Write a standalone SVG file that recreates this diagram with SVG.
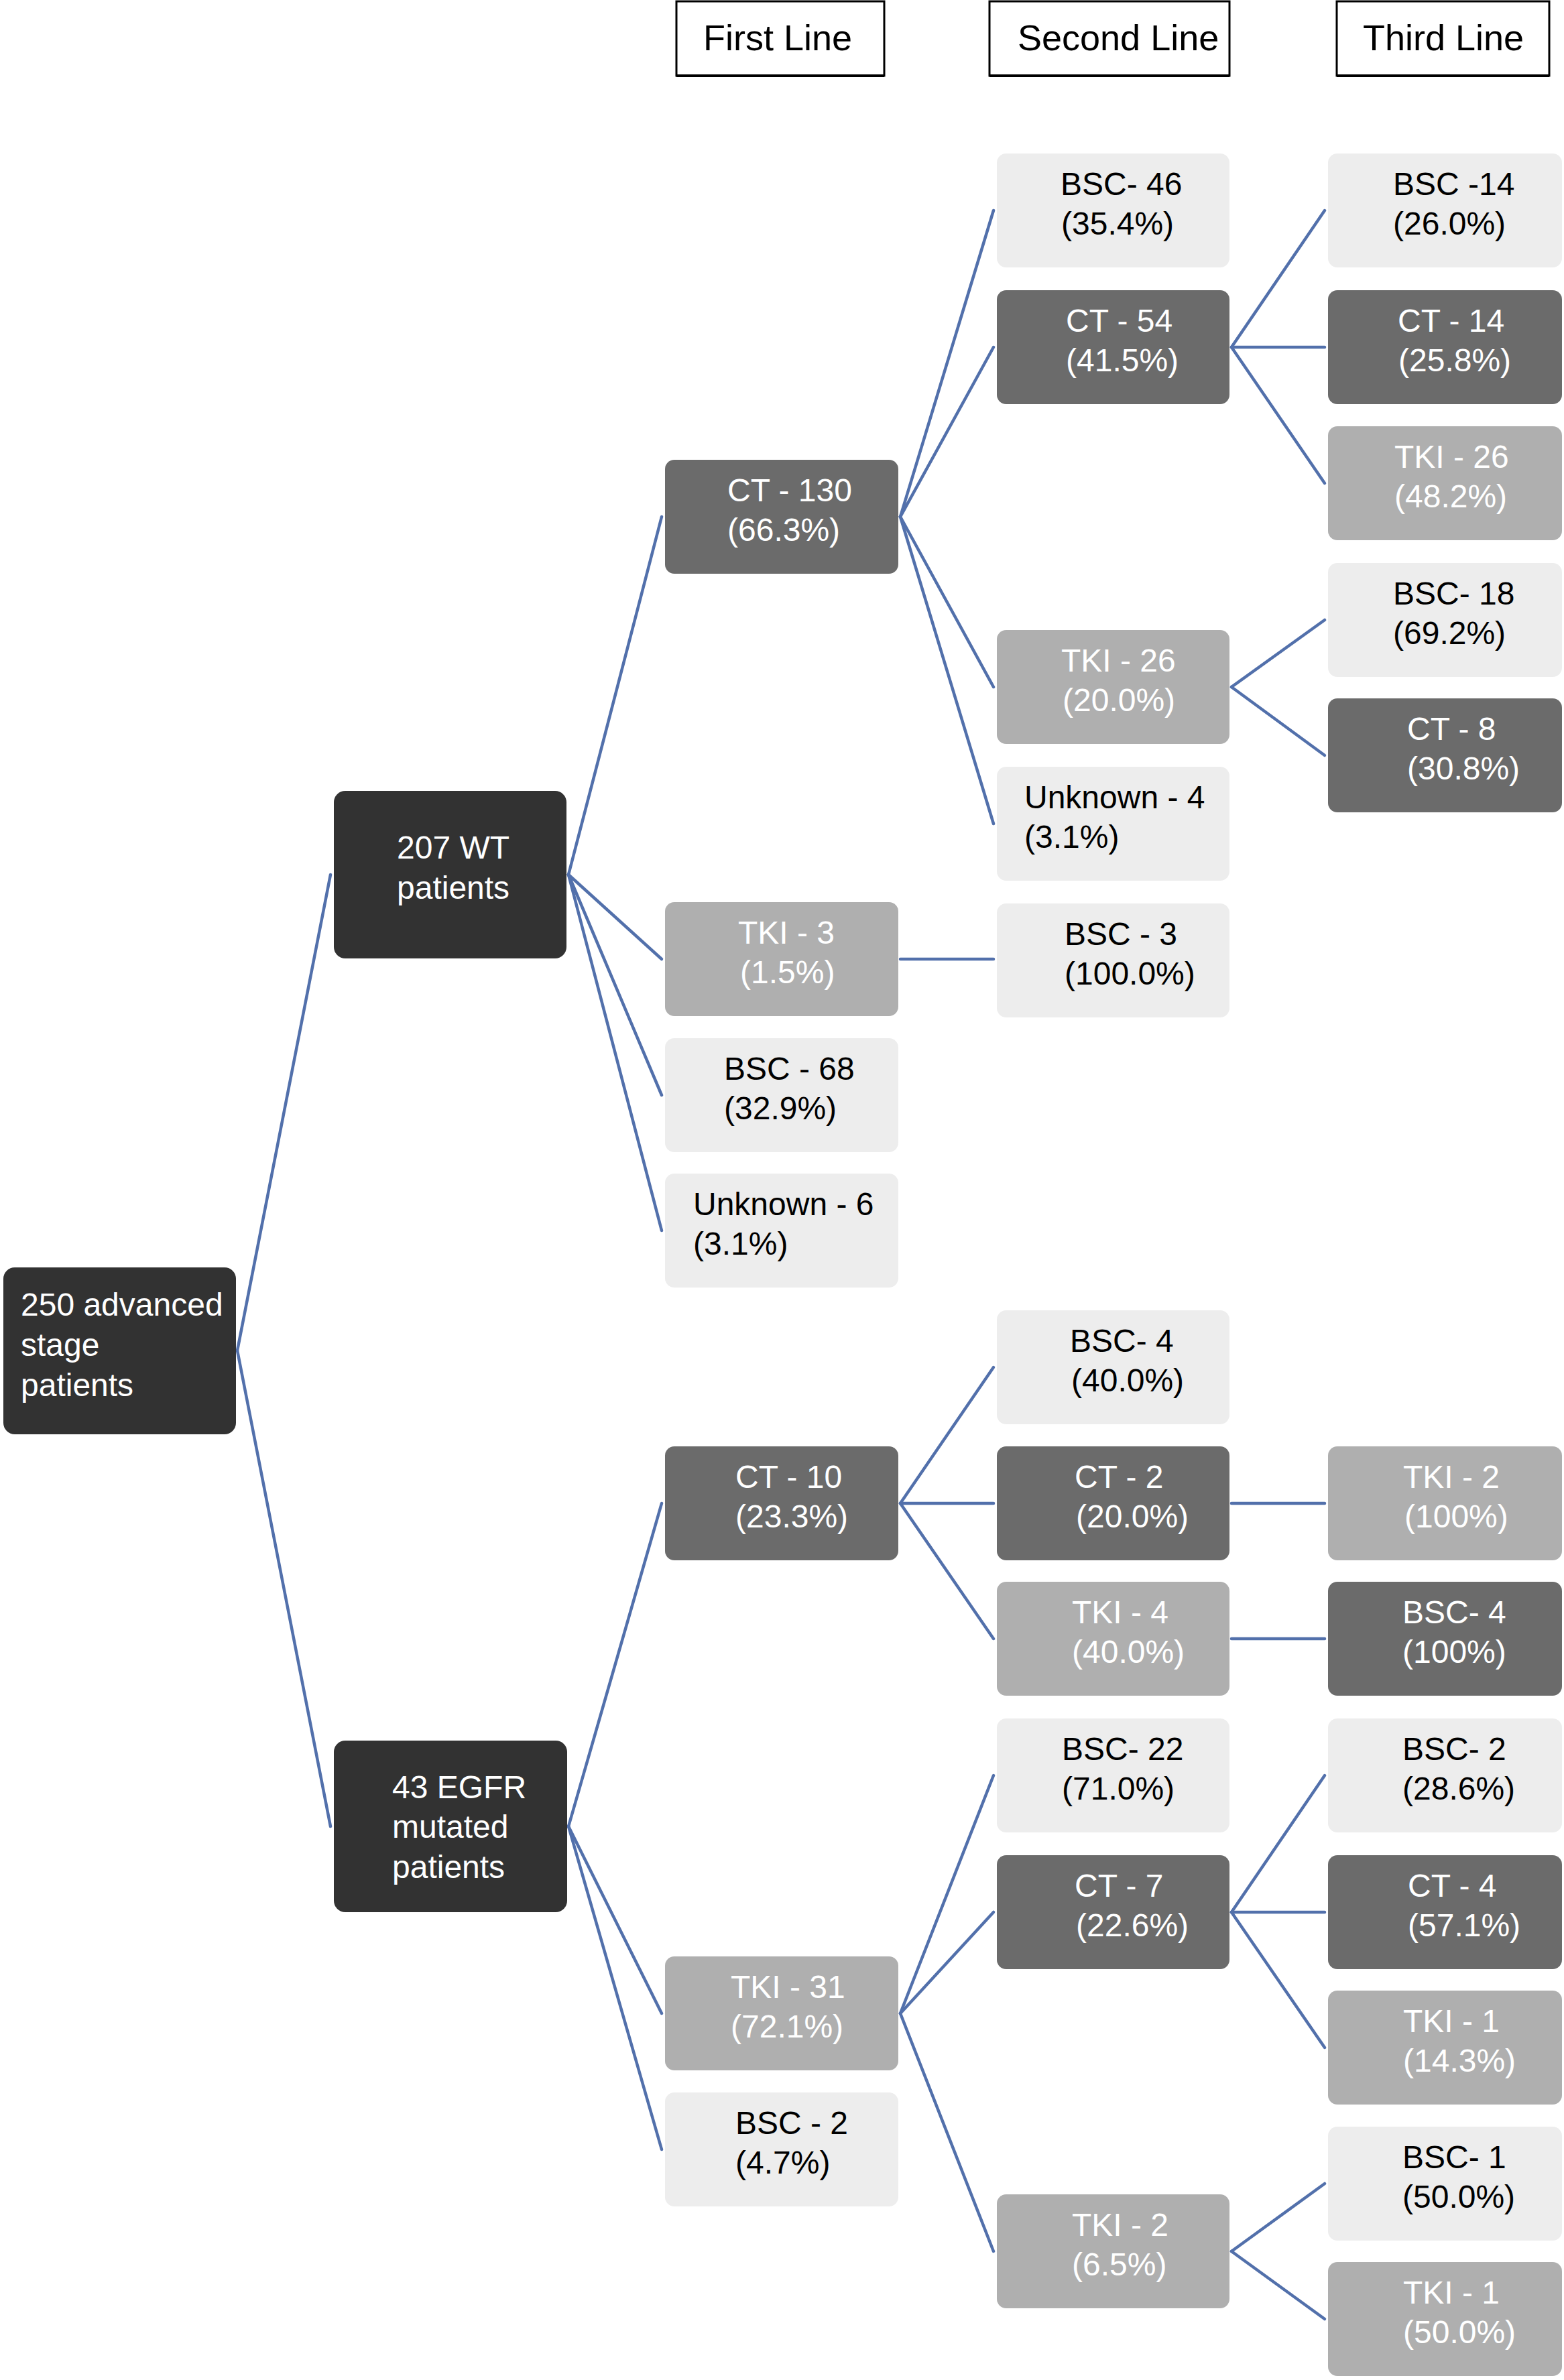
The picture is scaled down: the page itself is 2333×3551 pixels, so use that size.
<svg xmlns="http://www.w3.org/2000/svg" width="2333" height="3551" viewBox="0 0 2333 3551">
<style>
text{font-family:"Liberation Sans",Arial,sans-serif;font-size:48px}
.hd{font-size:54px;fill:#000}
.hbox{fill:#fff;stroke:#000;stroke-width:3}
.k{fill:#323232}
.d{fill:#6b6b6b}
.m{fill:#afafaf}
.l{fill:#ededed}
.tw{fill:#fff}
.tb{fill:#000}
.c line{stroke:#5270ab;stroke-width:4.5;stroke-linecap:round}
</style>
<rect width="2333" height="3551" fill="#fff"/>
<g id="headers">
<g id="h1"><rect class="hbox" x="1009" y="2" width="310" height="111"/><line x1="1009" y1="113" x2="1319" y2="113" stroke="#000" stroke-width="4"/><text class="hd" x="1049" y="75">First Line</text></g>
<g id="h2"><rect class="hbox" x="1476" y="2" width="358" height="111"/><line x1="1476" y1="113" x2="1834" y2="113" stroke="#000" stroke-width="4"/><text class="hd" x="1518" y="75">Second Line</text></g>
<g id="h3"><rect class="hbox" x="1994" y="2" width="317" height="111"/><line x1="1994" y1="113" x2="2311" y2="113" stroke="#000" stroke-width="4"/><text class="hd" x="2033" y="75">Third Line</text></g>
</g>
<g class="c" id="connectors">
<line x1="354" y1="2015" x2="493" y2="1305"/>
<line x1="354" y1="2015" x2="493" y2="2725"/>
<line x1="848" y1="1305" x2="987" y2="771"/>
<line x1="848" y1="1305" x2="987" y2="1431"/>
<line x1="848" y1="1305" x2="987" y2="1634"/>
<line x1="848" y1="1305" x2="987" y2="1836"/>
<line x1="1343" y1="771" x2="1482" y2="314"/>
<line x1="1343" y1="771" x2="1482" y2="518"/>
<line x1="1343" y1="771" x2="1482" y2="1025"/>
<line x1="1343" y1="771" x2="1482" y2="1229"/>
<line x1="1343" y1="1431" x2="1482" y2="1431"/>
<line x1="1837" y1="518" x2="1976" y2="314"/>
<line x1="1837" y1="518" x2="1976" y2="518"/>
<line x1="1837" y1="518" x2="1976" y2="721"/>
<line x1="1837" y1="1025" x2="1976" y2="925"/>
<line x1="1837" y1="1025" x2="1976" y2="1127"/>
<line x1="848" y1="2725" x2="987" y2="2243"/>
<line x1="848" y1="2725" x2="987" y2="3004"/>
<line x1="848" y1="2725" x2="987" y2="3207"/>
<line x1="1343" y1="2243" x2="1482" y2="2040"/>
<line x1="1343" y1="2243" x2="1482" y2="2243"/>
<line x1="1343" y1="2243" x2="1482" y2="2445"/>
<line x1="1837" y1="2243" x2="1976" y2="2243"/>
<line x1="1837" y1="2445" x2="1976" y2="2445"/>
<line x1="1343" y1="3004" x2="1482" y2="2649"/>
<line x1="1343" y1="3004" x2="1482" y2="2853"/>
<line x1="1343" y1="3004" x2="1482" y2="3359"/>
<line x1="1837" y1="2853" x2="1976" y2="2649"/>
<line x1="1837" y1="2853" x2="1976" y2="2853"/>
<line x1="1837" y1="2853" x2="1976" y2="3055"/>
<line x1="1837" y1="3359" x2="1976" y2="3258"/>
<line x1="1837" y1="3359" x2="1976" y2="3460"/>
</g>
<g id="root"><rect class="k" x="5" y="1891" width="347" height="249" rx="17"/><text class="tw"><tspan x="31" y="1963">250 advanced</tspan><tspan x="31" y="2023">stage</tspan><tspan x="31" y="2083">patients</tspan></text></g>
<g id="wt"><rect class="k" x="498" y="1180" width="347" height="250" rx="17"/><text class="tw"><tspan x="592" y="1281">207 WT</tspan><tspan x="592" y="1341">patients</tspan></text></g>
<g id="egfr"><rect class="k" x="498" y="2597" width="348" height="256" rx="17"/><text class="tw"><tspan x="585" y="2683">43 EGFR</tspan><tspan x="585" y="2742">mutated</tspan><tspan x="585" y="2802">patients</tspan></text></g>

<g id="wt-ct130"><rect class="d" x="992" y="686" width="348" height="170" rx="14"/><text class="tw"><tspan x="1085" y="748">CT - 130</tspan><tspan x="1085" y="807">(66.3%)</tspan></text></g>
<g id="wt-tki3"><rect class="m" x="992" y="1346" width="348" height="170" rx="14"/><text class="tw"><tspan x="1101" y="1408">TKI - 3</tspan><tspan x="1104" y="1467">(1.5%)</tspan></text></g>
<g id="wt-bsc68"><rect class="l" x="992" y="1549" width="348" height="170" rx="14"/><text class="tb"><tspan x="1080" y="1611">BSC - 68</tspan><tspan x="1080" y="1670">(32.9%)</tspan></text></g>
<g id="wt-unk6"><rect class="l" x="992" y="1751" width="348" height="170" rx="14"/><text class="tb"><tspan x="1034" y="1813">Unknown - 6</tspan><tspan x="1034" y="1872">(3.1%)</tspan></text></g>
<g id="eg-ct10"><rect class="d" x="992" y="2158" width="348" height="170" rx="14"/><text class="tw"><tspan x="1097" y="2220">CT - 10</tspan><tspan x="1097" y="2279">(23.3%)</tspan></text></g>
<g id="eg-tki31"><rect class="m" x="992" y="2919" width="348" height="170" rx="14"/><text class="tw"><tspan x="1090" y="2981">TKI - 31</tspan><tspan x="1090" y="3040">(72.1%)</tspan></text></g>
<g id="eg-bsc2"><rect class="l" x="992" y="3122" width="348" height="170" rx="14"/><text class="tb"><tspan x="1097" y="3184">BSC - 2</tspan><tspan x="1097" y="3243">(4.7%)</tspan></text></g>

<g id="s-bsc46"><rect class="l" x="1487" y="229" width="347" height="170" rx="14"/><text class="tb"><tspan x="1582" y="291">BSC- 46</tspan><tspan x="1583" y="350">(35.4%)</tspan></text></g>
<g id="s-ct54"><rect class="d" x="1487" y="433" width="347" height="170" rx="14"/><text class="tw"><tspan x="1590" y="495">CT - 54</tspan><tspan x="1590" y="554">(41.5%)</tspan></text></g>
<g id="s-tki26"><rect class="m" x="1487" y="940" width="347" height="170" rx="14"/><text class="tw"><tspan x="1583" y="1002">TKI - 26</tspan><tspan x="1585" y="1061">(20.0%)</tspan></text></g>
<g id="s-unk4"><rect class="l" x="1487" y="1144" width="347" height="170" rx="14"/><text class="tb"><tspan x="1528" y="1206">Unknown - 4</tspan><tspan x="1528" y="1265">(3.1%)</tspan></text></g>
<g id="s-bsc3"><rect class="l" x="1487" y="1348" width="347" height="170" rx="14"/><text class="tb"><tspan x="1588" y="1410">BSC - 3</tspan><tspan x="1588" y="1469">(100.0%)</tspan></text></g>
<g id="s-bsc4"><rect class="l" x="1487" y="1955" width="347" height="170" rx="14"/><text class="tb"><tspan x="1596" y="2017">BSC- 4</tspan><tspan x="1598" y="2076">(40.0%)</tspan></text></g>
<g id="s-ct2"><rect class="d" x="1487" y="2158" width="347" height="170" rx="14"/><text class="tw"><tspan x="1603" y="2220">CT - 2</tspan><tspan x="1605" y="2279">(20.0%)</tspan></text></g>
<g id="s-tki4"><rect class="m" x="1487" y="2360" width="347" height="170" rx="14"/><text class="tw"><tspan x="1599" y="2422">TKI - 4</tspan><tspan x="1599" y="2481">(40.0%)</tspan></text></g>
<g id="s-bsc22"><rect class="l" x="1487" y="2564" width="347" height="170" rx="14"/><text class="tb"><tspan x="1584" y="2626">BSC- 22</tspan><tspan x="1584" y="2685">(71.0%)</tspan></text></g>
<g id="s-ct7"><rect class="d" x="1487" y="2768" width="347" height="170" rx="14"/><text class="tw"><tspan x="1603" y="2830">CT - 7</tspan><tspan x="1605" y="2889">(22.6%)</tspan></text></g>
<g id="s-tki2"><rect class="m" x="1487" y="3274" width="347" height="170" rx="14"/><text class="tw"><tspan x="1599" y="3336">TKI - 2</tspan><tspan x="1599" y="3395">(6.5%)</tspan></text></g>

<g id="t-bsc14"><rect class="l" x="1981" y="229" width="349" height="170" rx="14"/><text class="tb"><tspan x="2078" y="291">BSC -14</tspan><tspan x="2078" y="350">(26.0%)</tspan></text></g>
<g id="t-ct14"><rect class="d" x="1981" y="433" width="349" height="170" rx="14"/><text class="tw"><tspan x="2085" y="495">CT - 14</tspan><tspan x="2086" y="554">(25.8%)</tspan></text></g>
<g id="t-tki26"><rect class="m" x="1981" y="636" width="349" height="170" rx="14"/><text class="tw"><tspan x="2080" y="698">TKI - 26</tspan><tspan x="2080" y="757">(48.2%)</tspan></text></g>
<g id="t-bsc18"><rect class="l" x="1981" y="840" width="349" height="170" rx="14"/><text class="tb"><tspan x="2078" y="902">BSC- 18</tspan><tspan x="2078" y="961">(69.2%)</tspan></text></g>
<g id="t-ct8"><rect class="d" x="1981" y="1042" width="349" height="170" rx="14"/><text class="tw"><tspan x="2099" y="1104">CT - 8</tspan><tspan x="2099" y="1163">(30.8%)</tspan></text></g>
<g id="t-tki2"><rect class="m" x="1981" y="2158" width="349" height="170" rx="14"/><text class="tw"><tspan x="2093" y="2220">TKI - 2</tspan><tspan x="2095" y="2279">(100%)</tspan></text></g>
<g id="t-bsc4"><rect class="d" x="1981" y="2360" width="349" height="170" rx="14"/><text class="tw"><tspan x="2092" y="2422">BSC- 4</tspan><tspan x="2092" y="2481">(100%)</tspan></text></g>
<g id="t-bsc2"><rect class="l" x="1981" y="2564" width="349" height="170" rx="14"/><text class="tb"><tspan x="2092" y="2626">BSC- 2</tspan><tspan x="2092" y="2685">(28.6%)</tspan></text></g>
<g id="t-ct4"><rect class="d" x="1981" y="2768" width="349" height="170" rx="14"/><text class="tw"><tspan x="2100" y="2830">CT - 4</tspan><tspan x="2100" y="2889">(57.1%)</tspan></text></g>
<g id="t-tki1a"><rect class="m" x="1981" y="2970" width="349" height="170" rx="14"/><text class="tw"><tspan x="2093" y="3032">TKI - 1</tspan><tspan x="2093" y="3091">(14.3%)</tspan></text></g>
<g id="t-bsc1"><rect class="l" x="1981" y="3173" width="349" height="170" rx="14"/><text class="tb"><tspan x="2092" y="3235">BSC- 1</tspan><tspan x="2092" y="3294">(50.0%)</tspan></text></g>
<g id="t-tki1b"><rect class="m" x="1981" y="3375" width="349" height="170" rx="14"/><text class="tw"><tspan x="2093" y="3437">TKI - 1</tspan><tspan x="2093" y="3496">(50.0%)</tspan></text></g>
</svg>
